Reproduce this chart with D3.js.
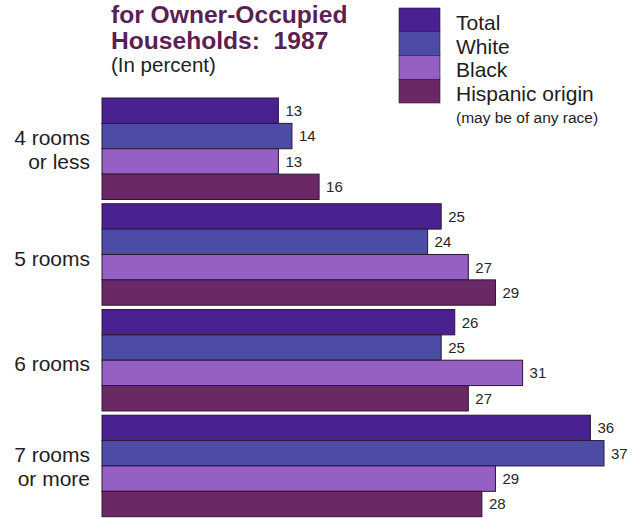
<!DOCTYPE html>
<html>
<head>
<meta charset="utf-8">
<script src="https://cdn.jsdelivr.net/npm/d3@7"></script>
<style>
  html, body { margin: 0; padding: 0; background: #ffffff; }
  svg { display: block; font-family: "Liberation Sans", Arial, Helvetica, sans-serif; }
</style>
</head>
<body>
<svg id="chart" width="637" height="518"></svg>
<script>
// Room-count groups (two-line labels where needed)
const categories = ["4 rooms or less", "5 rooms", "6 rooms", "7 rooms or more"];
const categoryLines = [["4 rooms", "or less"], ["5 rooms"], ["6 rooms"], ["7 rooms", "or more"]];

// Series, in drawing order within each group
const series = ["Total", "White", "Black", "Hispanic origin"];

// Percent of owner-occupied households, one array per series
const total    = [13, 25, 26, 36];
const white    = [14, 24, 25, 37];
const black    = [13, 27, 31, 29];
const hispanic = [16, 29, 27, 28];

const titleLines = ["for Owner-Occupied", "Households:  1987"];
const subtitle = "(In percent)";
const legendNote = "(may be of any race)";

const colors = {
  "Total": "#4a2191",
  "White": "#4c4ca6",
  "Black": "#955fc3",
  "Hispanic origin": "#6b2867"
};

const valuesBySeries = { "Total": total, "White": white, "Black": black, "Hispanic origin": hispanic };

const rows = [];
categories.forEach((c, i) => {
  series.forEach(s => rows.push({ category: c, series: s, value: valuesBySeries[s][i] }));
});

const svg = d3.select("#chart");

const x = d3.scaleLinear().domain([0, 37]).range([102, 604]);
const y = d3.scaleBand().domain(categories).range([98, 516.7]).paddingInner(0.04);
const ySub = d3.scaleBand().domain(series).range([0, y.bandwidth()]);

// Bars
const groups = svg.selectAll("g.group")
  .data(categories)
  .join("g")
  .attr("class", "group")
  .attr("transform", d => `translate(0,${y(d)})`);

groups.selectAll("rect")
  .data(c => rows.filter(r => r.category === c))
  .join("rect")
  .attr("x", x(0))
  .attr("y", d => ySub(d.series))
  .attr("width", d => x(d.value) - x(0))
  .attr("height", ySub.bandwidth())
  .attr("fill", d => colors[d.series])
  .attr("stroke", "#2a1838")
  .attr("stroke-width", 1);

// Value labels at bar ends
groups.selectAll("text.val")
  .data(c => rows.filter(r => r.category === c))
  .join("text")
  .attr("class", "val")
  .attr("x", d => x(d.value) + 7)
  .attr("y", d => ySub(d.series) + ySub.bandwidth() / 2)
  .attr("dy", "0.36em")
  .attr("font-size", 15)
  .attr("fill", "#262626")
  .text(d => d.value);

// Category labels
categories.forEach((c, i) => {
  const lines = categoryLines[i];
  const cy = y(c) + y.bandwidth() / 2;
  const t = svg.append("text")
    .attr("text-anchor", "end")
    .attr("font-size", 21)
    .attr("fill", "#1e1e1e");
  if (lines.length === 1) {
    t.append("tspan").attr("x", 90).attr("y", cy + 11.2).text(lines[0]);
  } else {
    t.append("tspan").attr("x", 90).attr("y", cy - 3.8).text(lines[0]);
    t.append("tspan").attr("x", 90).attr("y", cy + 19.8).text(lines[1]);
  }
});

// Title block
svg.append("text")
  .attr("x", 111).attr("y", 22.5)
  .attr("font-size", 24.6).attr("font-weight", "bold")
  .attr("fill", "#5c1f52")
  .style("white-space", "pre")
  .text(titleLines[0]);
svg.append("text")
  .attr("x", 111).attr("y", 48.5)
  .attr("font-size", 24.6).attr("font-weight", "bold")
  .attr("fill", "#5c1f52")
  .style("white-space", "pre")
  .text(titleLines[1]);
svg.append("text")
  .attr("x", 111).attr("y", 72)
  .attr("font-size", 20.5)
  .attr("fill", "#222")
  .text(subtitle);

// Legend
const legY = d3.scaleBand().domain(series).range([8, 103]);
const legend = svg.append("g");
legend.selectAll("rect")
  .data(series)
  .join("rect")
  .attr("x", 399)
  .attr("y", d => legY(d))
  .attr("width", 41)
  .attr("height", legY.bandwidth())
  .attr("fill", d => colors[d])
  .attr("stroke", "#2a1838")
  .attr("stroke-width", 0.6);
legend.selectAll("text")
  .data(series)
  .join("text")
  .attr("x", 456)
  .attr("y", d => legY(d) + legY.bandwidth() - 2)
  .attr("font-size", 21)
  .attr("fill", "#1e1e1e")
  .text(d => d);
legend.append("text")
  .attr("x", 456)
  .attr("y", 123)
  .attr("font-size", 15.5)
  .attr("fill", "#1e1e1e")
  .text(legendNote);
</script>
</body>
</html>
